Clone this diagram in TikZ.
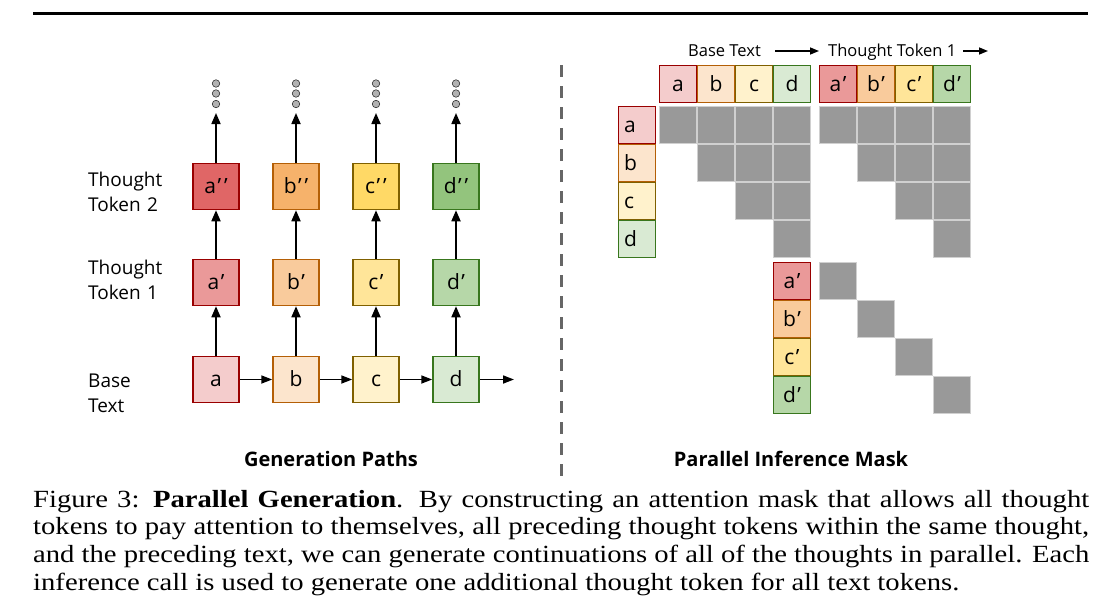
\documentclass[tikz,border=0pt]{standalone}
\usepackage{fontspec}
\setmainfont{Open Sans}
\newfontfamily\capfont{Liberation Serif}[FakeStretch=1.16]
\usetikzlibrary{arrows.meta}
\definecolor{Rb}{HTML}{990000}\definecolor{R1}{HTML}{F4CCCC}\definecolor{R2}{HTML}{EA9999}\definecolor{R3}{HTML}{E06666}
\definecolor{Ob}{HTML}{B45F06}\definecolor{O1}{HTML}{FCE5CD}\definecolor{O2}{HTML}{F9CB9C}\definecolor{O3}{HTML}{F6B26B}
\definecolor{Yb}{HTML}{7F6000}\definecolor{Y1}{HTML}{FFF2CC}\definecolor{Y2}{HTML}{FFE599}\definecolor{Y3}{HTML}{FFD966}
\definecolor{Gb}{HTML}{38761D}\definecolor{G1}{HTML}{D9EAD3}\definecolor{G2}{HTML}{B6D7A8}\definecolor{G3}{HTML}{93C47D}
\definecolor{cellgray}{HTML}{999999}
\definecolor{cellline}{HTML}{D0D0D0}
\definecolor{dashgray}{HTML}{666666}
\newcommand\pr{\kern1.5pt’}
\begin{document}
\begin{tikzpicture}[x=1pt,y=-1pt,
  lbox/.style={draw, line width=1.5pt, minimum size=46pt, inner sep=0pt, font=\fontsize{21}{24}\selectfont, text height=15pt, text depth=1pt},
  rbox/.style={draw, line width=1pt, minimum size=37pt, inner sep=0pt, font=\fontsize{21}{25}\selectfont, text height=16pt, text depth=1pt},
  rlab/.style={rbox, text width=26pt, align=left, inner xsep=5.5pt},
  cell/.style={draw=cellline, line width=1pt, fill=cellgray, minimum size=37pt, inner sep=0pt},
  arr/.style={line width=1.7pt, -{Triangle[length=11pt,width=9pt]}},
  harr/.style={line width=1.7pt, -{Triangle[length=11pt,width=8pt]}},
  dot/.style={circle, draw=gray!40!black, line width=0.6pt, fill=gray!60, minimum size=7.5pt, inner sep=0pt},
  lab/.style={anchor=base west, text width=100pt, align=left, inner sep=0pt, font=\fontsize{19}{25.5}\selectfont},
  title/.style={anchor=base, inner sep=0pt, font=\bfseries\fontsize{20}{24}\selectfont},
  head/.style={anchor=base west, inner sep=0pt, font=\fontsize{16.5}{20}\selectfont}]
\useasboundingbox (0,0) rectangle (1118,608);
% top rule
\draw[line width=3.5pt] (33,13.7) -- (1088,13.7);
% dashed separator
\draw[dashgray, line width=3pt, dash pattern=on 12pt off 9pt] (561,65) -- (561,480);

% ---------- left panel ----------
\node[lab] (lt2) at (88,186) {Thought\\Token 2};
\node[lab] (lt1) at (88,274) {Thought\\Token 1};
\node[lab] (lbt) at (88,387) {Base\\Text};
\foreach \l/\x/\c in {a/216/R, b/296/O, c/376/Y, d/456/G} {
  \node[lbox, draw=\c b, fill=\c1] (\l0) at (\x,379.5) {\l};
  \node[lbox, draw=\c b, fill=\c2] (\l1) at (\x,282.5) {\l\pr};
  \node[lbox, draw=\c b, fill=\c3] (\l2) at (\x,186.5) {\l\pr\kern3pt’};
  \coordinate (\l top) at (\x,113);
  \draw[arr] (\l0) -- (\l1);
  \draw[arr] (\l1) -- (\l2);
  \draw[arr] (\l2) -- (\l top);
  \node[dot] (\l dA) at (\x,83.5) {};
  \node[dot] (\l dB) at (\x,93.5) {};
  \node[dot] (\l dC) at (\x,104) {};
}
\coordinate (endB) at (514,379.5);
\draw[harr] (a0) -- (b0);
\draw[harr] (b0) -- (c0);
\draw[harr] (c0) -- (d0);
\draw[harr] (d0) -- (endB);
\node[title] (gp) at (331,466.5) {Generation Paths};

% ---------- right panel ----------
\node[head] (hbt) at (688,56) {Base Text};
\node[head] (htt) at (828,56) {Thought Token 1};
\coordinate (ha1) at (775,51);
\coordinate (ha2) at (819,51);
\coordinate (hb1) at (963,51);
\coordinate (hb2) at (988,51);
\draw[line width=1.5pt, -{Triangle[length=9pt,width=7pt]}] (ha1) -- (ha2);
\draw[line width=1.5pt, -{Triangle[length=9pt,width=7pt]}] (hb1) -- (hb2);

\foreach \l/\i/\c in {a/0/R, b/1/O, c/2/Y, d/3/G} {
  \node[rbox, draw=\c b, fill=\c1] (cb\l) at ({678+38*\i},84) {\l};
  \node[rbox, draw=\c b, fill=\c2] (ct\l) at ({838+38*\i},84) {\l\pr};
  \node[rlab, draw=\c b, fill=\c1] (rb\l) at (637,{125+38*\i}) {\l};
  \node[rbox, draw=\c b, fill=\c2] (rt\l) at (792,{280.5+38*\i}) {\l\pr};
}
\foreach \k in {0,...,3} {
  \foreach \i in {\k,...,3} {
    \node[cell] (mb\k\i) at ({678+38*\i},{125+38*\k}) {};
    \node[cell] (mt\k\i) at ({838+38*\i},{125+38*\k}) {};
  }
  \node[cell] (md\k) at ({838+38*\k},{280.5+38*\k}) {};
}
\node[title] (pim) at (791,466.5) {Parallel Inference Mask};

% ---------- caption ----------
\node[anchor=base west, text width=1056pt, inner sep=0pt, align=justify,
      font=\capfont\fontsize{24.7}{27.8}\selectfont] (cap) at (33,507)
 {Figure 3: \textbf{Parallel Generation}. By constructing an attention mask that allows all thought\linebreak
  tokens to pay attention to themselves, all preceding thought tokens within the same thought,\linebreak
  and the preceding text, we can generate continuations of all of the thoughts in parallel. Each\linebreak
  inference call is used to generate one additional thought token for all text tokens.};
\end{tikzpicture}
\end{document}
